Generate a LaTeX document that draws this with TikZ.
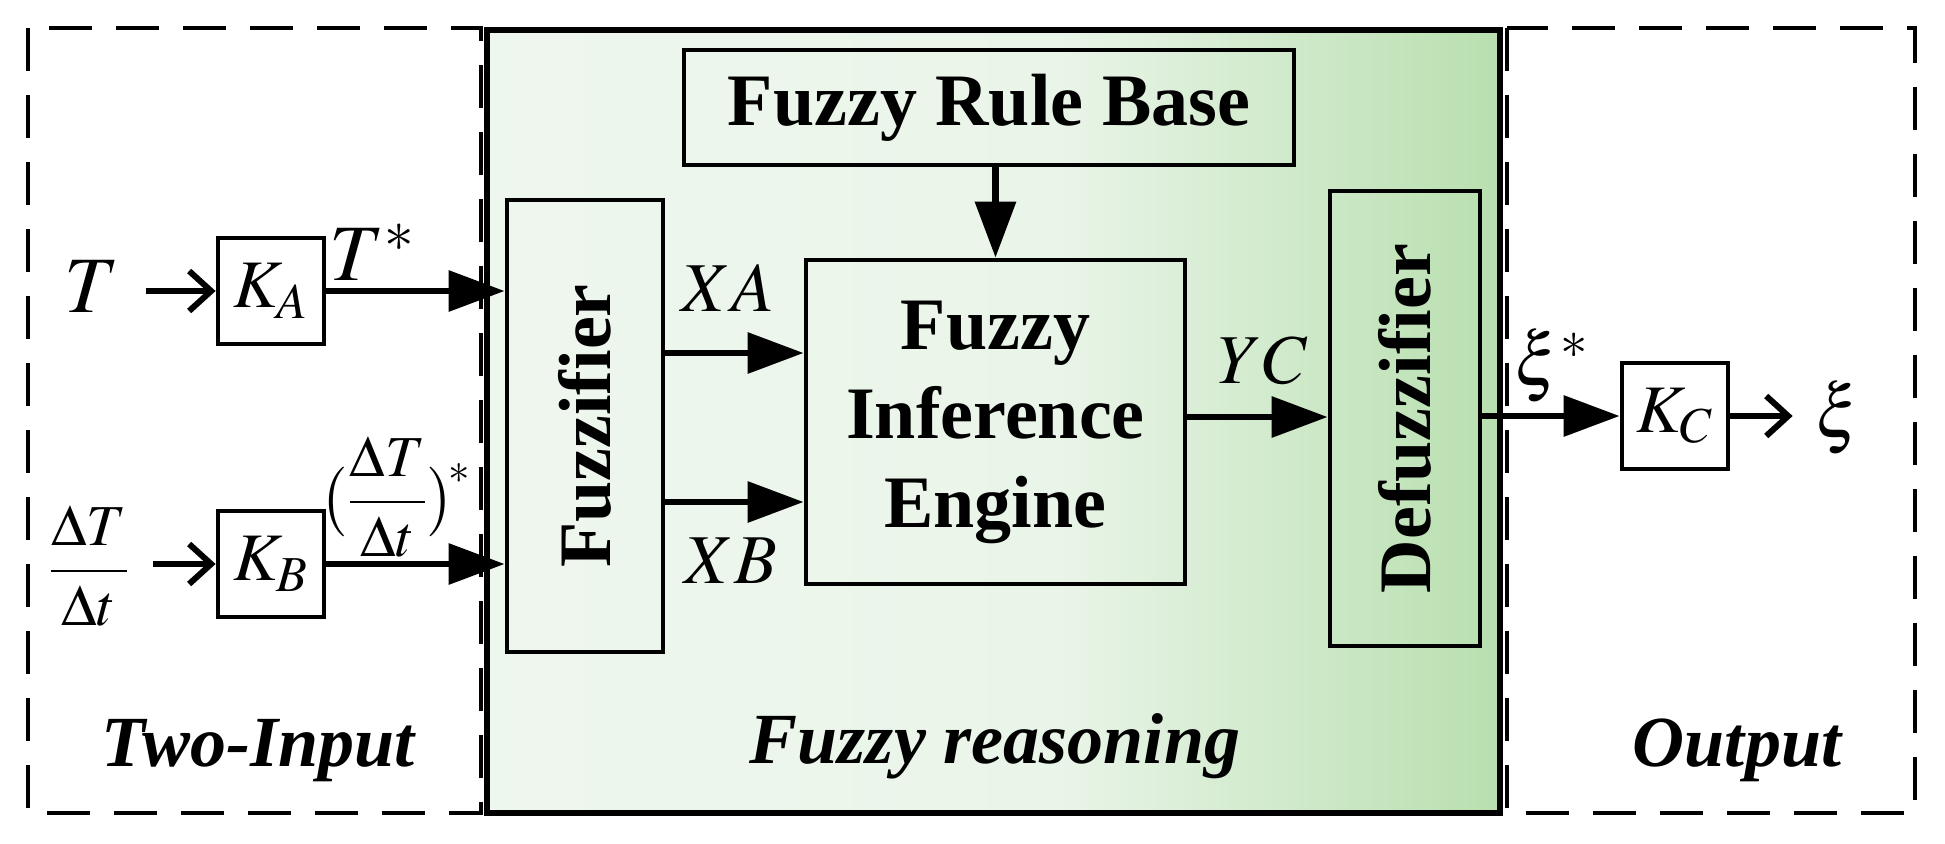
\documentclass[tikz,border=0pt]{standalone}
\usepackage{mathptmx}
\usepackage{fontspec}
\setmainfont{Liberation Serif}
\usetikzlibrary{arrows.meta}
\definecolor{gLight}{RGB}{242,248,243}
\definecolor{gMid}{RGB}{234,245,233}
\definecolor{gDeep}{RGB}{177,220,167}
\pgfdeclarehorizontalshading{greenfade}{100bp}{color(0bp)=(gLight); color(53bp)=(gMid); color(78bp)=(gDeep); color(100bp)=(gDeep)}
\begin{document}
\begin{tikzpicture}[x=0.5pt,y=-0.5pt,
  box/.style={draw,line width=2.4pt,inner sep=0pt,font=\fontsize{37}{44.5}\selectfont\bfseries,align=center},
  kbox/.style={draw,line width=2.4pt,fill=white,minimum width=53pt,minimum height=53pt,inner sep=0pt,font=\fontsize{34}{36}\selectfont},
  dashbox/.style={draw,line width=2.4pt,dash pattern=on 21.5pt off 12pt},
  arr/.style={line width=3.2pt,-{Triangle[length=28pt,width=20pt]}},
  barb/.style={line width=3.2pt,-{Straight Barb[length=11pt,width=20pt,line width=3pt]}},
  lab/.style={inner sep=0pt,font=\fontsize{35}{38}\selectfont},
  biglab/.style={inner sep=0pt,font=\fontsize{40}{42}\selectfont},
  fraclab/.style={inner sep=0pt,font=\fontsize{29}{32}\selectfont},
  grp/.style={inner sep=0pt,anchor=base,font=\fontsize{36}{40}\selectfont\bfseries\itshape}
]
\useasboundingbox (0,0) rectangle (1945,843);
% background of the reasoning block
\shade[shading=greenfade] (487,30) rectangle (1500,813);

% input side
\node[biglab] (Tin) at (92,287) {$T$};
\node[fraclab] (dTin) at (89,566) {$\displaystyle\frac{\Delta T}{\Delta t}$};
\node[kbox] (KA) at (271,291) {$K_A$};
\node[kbox] (KB) at (271,564) {$K_B$};
\node[biglab] (Tstar) at (372,252) {$T^{*}$};
\node[fraclab] (dTstar) at (396,497) {$\displaystyle\bigl(\frac{\Delta T}{\Delta t}\bigr)^{\!*}$};

% fuzzy reasoning
\node[box,minimum width=78pt,minimum height=226pt] (Fz) at (585,426) {\rotatebox{90}{Fuzzifier}};
\node[box,minimum width=305pt,minimum height=57.5pt] (RB) at (989,107.5) {Fuzzy Rule Base};
\node[box,minimum width=189.5pt,minimum height=162pt] (FIE) at (995.5,422) {Fuzzy\\Inference\\Engine};
\node[box,minimum width=75pt,minimum height=227.5pt] (Dz) at (1405,418.5) {\rotatebox{90}{Defuzzifier}};
\node[lab] (XA) at (728,288) {$XA$};
\node[lab] (XB) at (731,561) {$XB$};
\node[lab] (YC) at (1263,361) {$YC$};

% output side
\node[kbox] (KC) at (1675,416) {$K_C$};
\node[lab,font=\fontsize{37}{40}\selectfont] (xistar) at (1552,366) {$\xi^{*}$};
\node[lab,font=\fontsize{37}{40}\selectfont] (xiout) at (1838,418) {$\xi$};

% group titles
\node[grp] (g1) at (258,766) {Two-Input};
\node[grp] (g2) at (995,763) {Fuzzy reasoning};
\node[grp] (g3) at (1737,766) {Output};

% connectors
\draw[barb,shorten <=13pt] (Tin.east |- KA.west) -- (KA.west);
\draw[barb,shorten <=12pt] (dTin.east |- KB.west) -- (KB.west);
\draw[arr] (KA.east) -- (KA.east -| Fz.west);
\draw[arr] (KB.east) -- (KB.east -| Fz.west);
\coordinate (xain) at ([yshift=34.5pt]FIE.west);
\coordinate (xbin) at ([yshift=-40pt]FIE.west);
\draw[arr] (Fz.east |- xain) -- (xain);
\draw[arr] (Fz.east |- xbin) -- (xbin);
\draw[arr] (FIE.north |- RB.south) -- (FIE.north);
\draw[arr] ([yshift=2.5pt]FIE.east) -- ([yshift=2.5pt]FIE.east -| Dz.west);
\draw[arr] (KC.west -| Dz.east) -- (KC.west);
\draw[barb,shorten >=11pt] (KC.east) -- (KC.east -| xiout.west);

% group frames (drawn over the connectors)
\draw[line width=2.6pt] (487,30) rectangle (1500,813);
\draw[dashbox] (28,28) rectangle (481,813);
\draw[dashbox] (1507,28) rectangle (1915,813);
\end{tikzpicture}
\end{document}
